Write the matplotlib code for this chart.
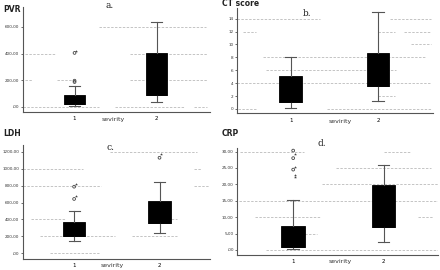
import matplotlib
matplotlib.use("Agg")
import matplotlib.pyplot as plt

# ---- data ----
groups = [1, 2]

# PVR
pvr_box = [dict(whislo=8, q1=22, med=22, q3=90, whishi=157),
           dict(whislo=35, q1=90, med=90, q3=402, whishi=637)]
pvr_out_circ = [(1, 187), (1, 197), (1, 405)]
pvr_out_star = [(1, 422)]
pvr_ticks = [0, 200, 400, 600]
pvr_labels = [",00", "200,00", "400,00", "600,00"]

# CT score
ct_box = [dict(whislo=0.1, q1=1.1, med=1.1, q3=5.1, whishi=8.0),
          dict(whislo=1.2, q1=3.6, med=3.6, q3=8.6, whishi=15.1)]
ct_ticks = [0, 2, 4, 6, 8, 10, 12, 14]
ct_labels = [str(t) for t in ct_ticks]

# LDH
ldh_box = [dict(whislo=145, q1=208, med=208, q3=373, whishi=496),
           dict(whislo=240, q1=354, med=354, q3=614, whishi=839)]
ldh_out_circ = [(1, 642), (1, 787), (2, 1129)]
ldh_out_star = [(1, 673), (1, 815), (2, 1169)]
ldh_ticks = [0, 200, 400, 600, 800, 1000, 1200]
ldh_labels = [",00", "200,00", "400,00", "600,00", "800,00", "1000,00", "1200,00"]

# CRP
crp_box = [dict(whislo=0.2, q1=1.0, med=1.0, q3=7.3, whishi=15.2),
           dict(whislo=2.5, q1=7.1, med=7.1, q3=19.8, whishi=25.9)]
crp_out_circ = [(1, 24.5), (1, 28.0), (1, 30.3)]
crp_out_star = [(1, 22.3), (1, 23.0), (1, 25.2), (1, 29.2)]
crp_ticks = [0, 5, 10, 15, 20, 25, 30]
crp_labels = [",00", "5,00", "10,00", "15,00", "20,00", "25,00", "30,00"]

# faint raw-data streaks behind the boxes: (value, x from, x to)
pvr_streaks = [(600, 1.30, 2.60), (400, 0.39, 0.76), (400, 1.67, 2.61),
               (200, 0.39, 0.48), (200, 0.78, 1.0), (200, 1.67, 2.61),
               (0, 0.37, 1.30), (0, 1.49, 2.34), (0, 2.46, 2.61)]
ct_streaks = [(14, 0.38, 1.34), (14, 2.14, 2.61), (12, 0.45, 0.6), (12, 2.0, 2.2),
              (12, 2.3, 2.61), (10, 2.38, 2.61), (8, 0.68, 2.54), (6, 0.72, 2.21),
              (4, 0.38, 2.61), (2, 2.0, 2.2), (0, 0.4, 0.6), (0, 1.41, 2.61)]
ldh_streaks = [(1200, 1.42, 2.44), (1000, 0.40, 1.1), (1000, 2.4, 2.49),
               (800, 0.40, 1.31), (800, 2.4, 2.6), (400, 0.5, 0.9), (400, 1.86, 2.2),
               (200, 0.6, 1.48), (200, 1.68, 2.2), (0, 0.72, 1.29)]
crp_streaks = [(30, 0.41, 1.12), (30, 2.0, 2.3), (25, 1.47, 2.52), (20, 1.32, 2.61),
               (15, 0.4, 2.61), (10, 0.58, 1.3), (10, 2.38, 2.55), (5, 1.0, 1.26),
               (0, 0.70, 2.61)]

W, H = 440, 270
fig = plt.figure(figsize=(4.4, 2.7), dpi=100)
fig.patch.set_facecolor("white")


def px(x, y):
    return x / W, 1 - y / H


def panel(rect, stats, streaks, circ, star, ticks, labels, xlim, ylim):
    ax = fig.add_axes(rect)
    for v, a, b in streaks:
        ax.plot([a, b], [v, v], color="#c4c4c4", lw=0.7, ls=(0, (2.5, 1.5)), zorder=1)
    ax.bxp(stats, positions=groups, widths=0.26, showfliers=False, patch_artist=True,
           boxprops=dict(facecolor="black", edgecolor="black", lw=0.6),
           medianprops=dict(color="black", lw=0.6),
           whiskerprops=dict(color="#555555", lw=0.8),
           capprops=dict(color="#555555", lw=0.8), capwidths=0.13,
           manage_ticks=False, zorder=3)
    if circ:
        ax.scatter([p[0] for p in circ], [p[1] for p in circ], s=4, facecolors="none",
                   edgecolors="#444444", linewidths=0.6, zorder=4)
    if star:
        ax.scatter([p[0] + 0.02 for p in star], [p[1] for p in star], s=5, marker="*",
                   color="#444444", linewidths=0, zorder=4)
    ax.set_xlim(*xlim)
    ax.set_ylim(*ylim)
    ax.set_yticks(ticks)
    ax.set_yticklabels(labels)
    ax.set_xticks(groups)
    ax.set_xticklabels(["1", "2"])
    ax.tick_params(axis="y", labelsize=3, length=1.5, width=0.5, pad=1, colors="#333333")
    ax.tick_params(axis="x", labelsize=4, length=0, pad=3)
    for s in ["top", "right"]:
        ax.spines[s].set_visible(False)
    for s in ["left", "bottom"]:
        ax.spines[s].set_color("#555555")
        ax.spines[s].set_linewidth(0.8)
    return ax


panel([0.052, 0.584, 0.425, 0.391], pvr_box, pvr_streaks, pvr_out_circ, pvr_out_star,
      pvr_ticks, pvr_labels, (0.37, 2.65), (-40, 751))
panel([0.538, 0.580, 0.446, 0.389], ct_box, ct_streaks, [], [],
      ct_ticks, ct_labels, (0.38, 2.63), (-0.7, 15.6))
panel([0.052, 0.041, 0.425, 0.422], ldh_box, ldh_streaks, ldh_out_circ, ldh_out_star,
      ldh_ticks, ldh_labels, (0.40, 2.59), (-67, 1280))
panel([0.539, 0.056, 0.456, 0.396], crp_box, crp_streaks, crp_out_circ, crp_out_star,
      crp_ticks, crp_labels, (0.38, 2.60), (-1.5, 31.1))

# variable names
for name, x, y in [("PVR", 3, 10), ("CT score", 222, 4), ("LDH", 3, 133), ("CRP", 222, 134)]:
    fig.text(*px(x, y), name, fontsize=5.5, fontweight="bold", ha="left", va="center",
             color="#222222")
# panel letters
for lab, x, y in [("a.", 110, 6), ("b.", 307, 14), ("c.", 110, 147), ("d.", 322, 144)]:
    fig.text(*px(x, y), lab, fontsize=6.5, family="DejaVu Serif", ha="center", va="center",
             color="#222222")
# axis titles
for x, y in [(113, 120), (340, 121), (112, 266), (340, 262)]:
    fig.text(*px(x, y), "sevirity", fontsize=4.5, ha="center", va="center", color="#333333")

fig.savefig("out.png", dpi=100)
